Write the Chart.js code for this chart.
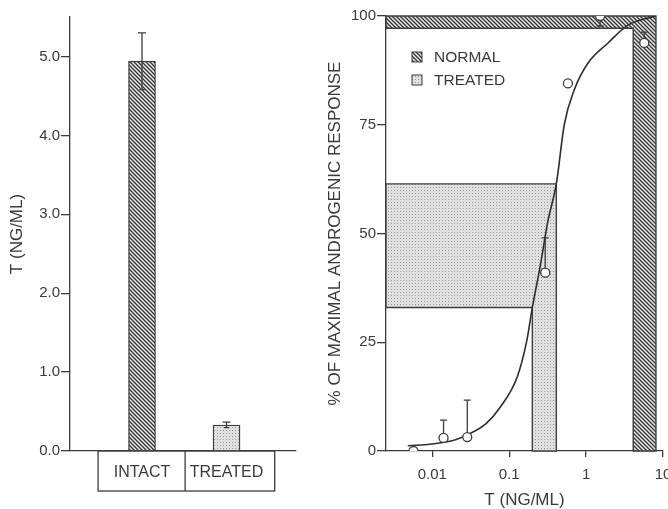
<!DOCTYPE html>
<html>
<head>
<meta charset="utf-8">
<script src="https://cdn.jsdelivr.net/npm/chart.js@4.4.1/dist/chart.umd.min.js"></script>
<style>
  html, body { margin: 0; padding: 0; background: #fff; overflow: hidden; }
  body { width: 668px; height: 509px; position: relative; }
  canvas { position: absolute; top: 0; }
  #barChart { left: 0; }
  #doseChart { left: 300px; }
</style>
</head>
<body>
<canvas id="barChart" width="300" height="509"></canvas>
<canvas id="doseChart" width="390" height="509"></canvas>
<script>
// serum testosterone, left panel
const groups = ['INTACT', 'TREATED'];
const tMean = [4.94, 0.33];
const tSem = [0.36, 0.035];
const tTicks = [0, 1, 2, 3, 4, 5];

// dose-response, right panel
const curveT = [0.0048, 0.01, 0.02, 0.03, 0.05, 0.076, 0.127, 0.17, 0.2, 0.25, 0.32, 0.41, 0.52, 0.70, 1.06, 1.93, 3.5, 7.9];
const curveResp = [1.2, 1.6, 2.6, 3.9, 6.3, 10, 17, 25.5, 33, 42, 53, 61.4, 75, 83, 89.2, 93.8, 97.9, 100];
const pointT = [0.0057, 0.014, 0.0285, 0.294, 0.58, 1.52, 5.7];
const pointResp = [0, 3.0, 3.2, 41, 84.5, 100, 93.8];
const pointErrUp = [0, 4.1, 8.5, 8, 0, 0, 2.5];
const pointErrDown = [0, 0, 0, 0, 0, 2.3, 0];
const normalT = [4.1, 8.1];
const normalResp = [97.2, 100];
const treatedT = [0.2, 0.41];
const treatedResp = [33, 61.4];
const doseTicks = [0.01, 0.1, 1, 10];
const doseTickLabels = ['0.01', '0.1', '1', '10'];
const respTicks = [0, 25, 50, 75, 100];
const legendLabels = ['NORMAL', 'TREATED'];

const INK = '#3c3c3c';
const TEXT = '#3a3a3a';
Chart.defaults.font.family = "'Liberation Sans', Arial, Helvetica, sans-serif";
Chart.defaults.color = TEXT;
Chart.defaults.animation = false;

// ----------------------------------------------------
// Fill patterns
// ----------------------------------------------------
function makeHatch(ctx) {
    const c = document.createElement('canvas');
    c.width = 4; c.height = 4;
    const p = c.getContext('2d');
    p.fillStyle = '#eaeaea';
    p.fillRect(0, 0, 4, 4);
    p.strokeStyle = '#333';
    p.lineWidth = 1.3;
    p.beginPath();
    p.moveTo(-1, -1); p.lineTo(5, 5);
    p.moveTo(-1, 3); p.lineTo(1, 5);
    p.moveTo(3, -1); p.lineTo(5, 1);
    p.stroke();
    return ctx.createPattern(c, 'repeat');
}

function makeStipple(ctx) {
    const c = document.createElement('canvas');
    c.width = 3; c.height = 3;
    const p = c.getContext('2d');
    p.fillStyle = '#e0e0e0';
    p.fillRect(0, 0, 3, 3);
    p.fillStyle = '#999';
    p.fillRect(1, 1, 1, 1);
    return ctx.createPattern(c, 'repeat');
}

const axisGrid = { drawOnChartArea: false, color: INK, lineWidth: 1.3 };
const axisBorder = { display: true, color: INK, width: 1.3 };

// ----------------------------------------------------
// Left: bar chart with error bars and group box
// ----------------------------------------------------
const barCtx = document.getElementById('barChart').getContext('2d');
const barHatch = makeHatch(barCtx);
const barStipple = makeStipple(barCtx);

const barErrors = {
    id: 'barErrors',
    afterDatasetsDraw(chart) {
        const { ctx, scales: { x, y } } = chart;
        ctx.save();
        ctx.strokeStyle = INK;
        ctx.lineWidth = 1.3;
        tMean.forEach((m, i) => {
            const px = x.getPixelForValue(i + 1);
            const top = y.getPixelForValue(m + tSem[i]);
            const bot = y.getPixelForValue(m - tSem[i]);
            ctx.beginPath();
            ctx.moveTo(px, bot); ctx.lineTo(px, top);
            ctx.moveTo(px - 4, top); ctx.lineTo(px + 4, top);
            ctx.moveTo(px - 2.5, bot); ctx.lineTo(px + 2.5, bot);
            ctx.stroke();
        });
        ctx.restore();
    }
};

const groupBox = {
    id: 'groupBox',
    afterDraw(chart) {
        const { ctx, scales: { x, y } } = chart;
        const y0 = y.getPixelForValue(0);
        const [l, mid, r] = [0.48, 1.51, 2.57].map(v => x.getPixelForValue(v));
        ctx.save();
        ctx.strokeStyle = INK;
        ctx.lineWidth = 1.3;
        ctx.strokeRect(l, y0, r - l, 40);
        ctx.beginPath();
        ctx.moveTo(mid, y0); ctx.lineTo(mid, y0 + 40);
        ctx.stroke();
        ctx.restore();
    }
};

new Chart(barCtx, {
    type: 'bar',
    data: {
        datasets: [{
            data: groups.map((g, i) => ({ x: i + 1, y: tMean[i] })),
            backgroundColor: [barHatch, barStipple],
            borderColor: INK,
            borderWidth: 1.3,
            borderSkipped: 'bottom',
            barThickness: 27
        }]
    },
    options: {
        responsive: false,
        layout: { padding: { top: 17, right: 4, left: 0, bottom: 0 } },
        plugins: { legend: { display: false }, tooltip: { enabled: false } },
        scales: {
            x: {
                type: 'linear', min: 0.148, max: 2.822, offset: false,
                afterBuildTicks: s => { s.ticks = groups.map((g, i) => ({ value: i + 1 })); },
                afterFit: s => { s.height = 58; s.paddingLeft = 0; s.paddingRight = 0; },
                grid: { ...axisGrid, drawTicks: false, offset: false },
                border: axisBorder,
                ticks: { padding: 12, font: { size: 16 }, maxRotation: 0, autoSkip: false,
                         callback: (v, i) => groups[i] }
            },
            y: {
                min: 0, max: 5.5,
                afterBuildTicks: s => { s.ticks = tTicks.map(v => ({ value: v })); },
                afterFit: s => { s.width = 70; s.paddingTop = 0; s.paddingBottom = 0; },
                grid: { ...axisGrid, tickLength: 9 },
                border: axisBorder,
                ticks: { padding: 1, font: { size: 15 }, callback: v => v.toFixed(1) },
                title: { display: true, text: 'T (NG/ML)', font: { size: 17 }, padding: { top: 7, bottom: 0 } }
            }
        }
    },
    plugins: [barErrors, groupBox]
});

// ----------------------------------------------------
// Right: dose-response curve on a log axis
// ----------------------------------------------------
const doseCtx = document.getElementById('doseChart').getContext('2d');
const doseHatch = makeHatch(doseCtx);
const doseStipple = makeStipple(doseCtx);

const ranges = [
    { t: treatedT, r: treatedResp, fill: doseStipple },
    { t: normalT, r: normalResp, fill: doseHatch }
];

const rangeBands = {
    id: 'rangeBands',
    beforeDatasetsDraw(chart) {
        const { ctx, scales: { x, y } } = chart;
        ctx.save();
        ranges.forEach(band => {
            const pts = [
                [x.min, band.r[1]], [band.t[1], band.r[1]], [band.t[1], 0],
                [band.t[0], 0], [band.t[0], band.r[0]], [x.min, band.r[0]]
            ].map(([tv, rv]) => [x.getPixelForValue(tv), y.getPixelForValue(rv)]);
            ctx.beginPath();
            pts.forEach(([px, py], i) => i ? ctx.lineTo(px, py) : ctx.moveTo(px, py));
            ctx.closePath();
            ctx.fillStyle = band.fill;
            ctx.fill();
            ctx.strokeStyle = INK;
            ctx.lineWidth = 1.4;
            ctx.stroke();
        });

        // error bars under the open circles
        ctx.lineWidth = 1.3;
        pointT.forEach((tv, i) => {
            const px = x.getPixelForValue(tv);
            const py = y.getPixelForValue(pointResp[i]);
            [pointErrUp[i], -pointErrDown[i]].forEach(e => {
                if (!e) return;
                const ey = y.getPixelForValue(pointResp[i] + e);
                ctx.beginPath();
                ctx.moveTo(px, py); ctx.lineTo(px, ey);
                ctx.moveTo(px - 3.5, ey); ctx.lineTo(px + 3.5, ey);
                ctx.stroke();
            });
        });
        ctx.restore();
    }
};

const bandLegend = {
    id: 'bandLegend',
    afterDatasetsDraw(chart) {
        const { ctx, chartArea } = chart;
        const fills = [doseHatch, doseStipple];
        ctx.save();
        ctx.font = "15.5px 'Liberation Sans', Arial, sans-serif";
        ctx.textBaseline = 'middle';
        legendLabels.forEach((label, i) => {
            const bx = chartArea.left + 26;
            const by = chartArea.top + 36 + i * 23;
            ctx.fillStyle = fills[i];
            ctx.fillRect(bx, by, 10, 10);
            ctx.strokeStyle = INK;
            ctx.lineWidth = 1;
            ctx.strokeRect(bx, by, 10, 10);
            ctx.fillStyle = TEXT;
            ctx.fillText(label, bx + 22, by + 5.5);
        });
        ctx.restore();
    }
};

new Chart(doseCtx, {
    type: 'line',
    data: {
        datasets: [
            {
                type: 'scatter',
                data: pointT.map((tv, i) => ({ x: tv, y: pointResp[i] })),
                pointRadius: 4.5,
                pointBackgroundColor: '#ffffff',
                pointBorderColor: INK,
                pointBorderWidth: 1.3,
                order: 0
            },
            {
                data: curveT.map((tv, i) => ({ x: tv, y: curveResp[i] })),
                borderColor: '#2e2e2e',
                borderWidth: 1.6,
                pointRadius: 0,
                cubicInterpolationMode: 'monotone',
                fill: false,
                order: 1
            }
        ]
    },
    options: {
        responsive: false,
        layout: { padding: { top: 16, right: 27, left: 0, bottom: 0 } },
        plugins: { legend: { display: false }, tooltip: { enabled: false } },
        scales: {
            x: {
                type: 'logarithmic', min: 0.0025, max: 10, bounds: 'data',
                afterBuildTicks: s => { s.ticks = doseTicks.map(v => ({ value: v })); },
                afterFit: s => { s.height = 58; s.paddingLeft = 0; s.paddingRight = 0; },
                grid: { ...axisGrid, tickLength: 6 },
                border: axisBorder,
                ticks: { padding: 9, font: { size: 15 }, maxRotation: 0, autoSkip: false,
                         callback: (v, i) => doseTickLabels[i] },
                title: { display: true, text: 'T (NG/ML)', font: { size: 17, lineHeight: 1 }, padding: { top: 0, bottom: 0 } }
            },
            y: {
                min: 0, max: 100,
                afterBuildTicks: s => { s.ticks = respTicks.map(v => ({ value: v })); },
                afterFit: s => { s.width = 86; s.paddingTop = 0; s.paddingBottom = 0; },
                grid: { ...axisGrid, tickLength: 9 },
                border: axisBorder,
                ticks: { padding: 1, font: { size: 15 } },
                title: { display: true, text: '% OF MAXIMAL ANDROGENIC RESPONSE', font: { size: 17 }, padding: { top: 25, bottom: 0 } }
            }
        }
    },
    plugins: [rangeBands, bandLegend]
});
</script>
</body>
</html>
